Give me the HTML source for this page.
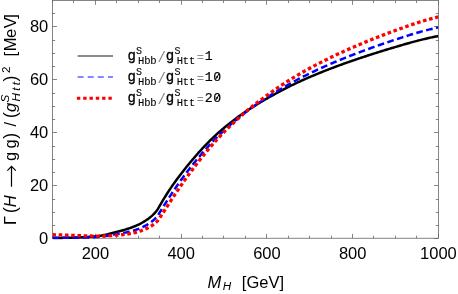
<!DOCTYPE html>
<html><head><meta charset="utf-8"><style>
html,body{margin:0;padding:0;background:#fff;overflow:hidden}
svg{display:block;will-change:transform}
</style></head><body>
<svg width="458" height="294" viewBox="0 0 458 294">
<rect width="458" height="294" fill="#fff"/>
<rect x="52.55" y="0.4" width="385.84999999999997" height="237.85" fill="none" stroke="#666" stroke-width="0.8"/>
<path d="M52.50,238.25 v-2.6 M52.50,0.4 v2.6 M73.50,238.25 v-2.6 M73.50,0.4 v2.6 M95.50,238.25 v-4.4 M95.50,0.4 v4.4 M116.50,238.25 v-2.6 M116.50,0.4 v2.6 M138.50,238.25 v-2.6 M138.50,0.4 v2.6 M159.50,238.25 v-2.6 M159.50,0.4 v2.6 M181.50,238.25 v-4.4 M181.50,0.4 v4.4 M202.50,238.25 v-2.6 M202.50,0.4 v2.6 M223.50,238.25 v-2.6 M223.50,0.4 v2.6 M245.50,238.25 v-2.6 M245.50,0.4 v2.6 M266.50,238.25 v-4.4 M266.50,0.4 v4.4 M288.50,238.25 v-2.6 M288.50,0.4 v2.6 M309.50,238.25 v-2.6 M309.50,0.4 v2.6 M331.50,238.25 v-2.6 M331.50,0.4 v2.6 M352.50,238.25 v-4.4 M352.50,0.4 v4.4 M373.50,238.25 v-2.6 M373.50,0.4 v2.6 M395.50,238.25 v-2.6 M395.50,0.4 v2.6 M416.50,238.25 v-2.6 M416.50,0.4 v2.6 M438.50,238.25 v-4.4 M438.50,0.4 v4.4 M52.55,238.50 h4.4 M438.4,238.50 h-4.4 M52.55,225.50 h2.6 M438.4,225.50 h-2.6 M52.55,212.50 h2.6 M438.4,212.50 h-2.6 M52.55,199.50 h2.6 M438.4,199.50 h-2.6 M52.55,185.50 h4.4 M438.4,185.50 h-4.4 M52.55,172.50 h2.6 M438.4,172.50 h-2.6 M52.55,159.50 h2.6 M438.4,159.50 h-2.6 M52.55,146.50 h2.6 M438.4,146.50 h-2.6 M52.55,132.50 h4.4 M438.4,132.50 h-4.4 M52.55,119.50 h2.6 M438.4,119.50 h-2.6 M52.55,106.50 h2.6 M438.4,106.50 h-2.6 M52.55,93.50 h2.6 M438.4,93.50 h-2.6 M52.55,79.50 h4.4 M438.4,79.50 h-4.4 M52.55,66.50 h2.6 M438.4,66.50 h-2.6 M52.55,53.50 h2.6 M438.4,53.50 h-2.6 M52.55,40.50 h2.6 M438.4,40.50 h-2.6 M52.55,26.50 h4.4 M438.4,26.50 h-4.4 M52.55,13.50 h2.6 M438.4,13.50 h-2.6" fill="none" stroke="#666" stroke-width="0.8"/>
<clipPath id="c"><rect x="52.55" y="0.4" width="385.84999999999997" height="239.35"/></clipPath>
<g clip-path="url(#c)" fill="none">
<path d="M52.58,238.06 L53.55,238.05 L54.52,238.03 L55.48,238.02 L56.45,238.00 L57.42,237.99 L58.38,237.97 L59.35,237.95 L60.32,237.93 L61.28,237.91 L62.25,237.89 L63.22,237.87 L64.18,237.85 L65.15,237.82 L66.12,237.80 L67.09,237.77 L68.05,237.75 L69.02,237.72 L69.99,237.69 L70.95,237.66 L71.92,237.63 L72.89,237.59 L73.85,237.56 L74.82,237.52 L75.79,237.49 L76.76,237.45 L77.72,237.41 L78.69,237.37 L79.66,237.33 L80.62,237.29 L81.59,237.24 L82.56,237.19 L83.52,237.15 L84.49,237.10 L85.46,237.05 L86.42,236.99 L87.39,236.94 L88.36,236.88 L89.33,236.82 L90.29,236.76 L91.26,236.70 L92.23,236.64 L93.19,236.57 L94.16,236.50 L95.13,236.43 L96.09,236.35 L97.06,236.25 L98.03,236.13 L99.00,236.00 L99.96,235.84 L100.93,235.66 L101.90,235.47 L102.86,235.27 L103.83,235.07 L104.80,234.86 L105.76,234.65 L106.73,234.44 L107.70,234.23 L108.67,233.99 L109.63,233.75 L110.60,233.49 L111.57,233.23 L112.53,232.96 L113.50,232.70 L114.47,232.43 L115.43,232.18 L116.40,231.94 L117.37,231.71 L118.33,231.48 L119.30,231.24 L120.27,231.00 L121.24,230.75 L122.20,230.49 L123.17,230.22 L124.14,229.95 L125.10,229.66 L126.07,229.37 L127.04,229.06 L128.00,228.75 L128.97,228.43 L129.94,228.09 L130.91,227.75 L131.87,227.39 L132.84,227.02 L133.81,226.64 L134.77,226.25 L135.74,225.84 L136.71,225.41 L137.67,224.97 L138.64,224.51 L139.61,224.04 L140.58,223.54 L141.54,223.02 L142.51,222.49 L143.48,221.92 L144.44,221.34 L145.41,220.73 L146.38,220.09 L147.34,219.42 L148.31,218.72 L149.28,217.99 L150.24,217.23 L151.21,216.42 L152.18,215.57 L153.15,214.66 L154.11,213.70 L155.08,212.66 L156.05,211.53 L157.01,210.28 L157.98,208.84 L158.95,207.12 L159.91,205.43 L160.88,203.76 L161.85,202.11 L162.82,200.49 L163.78,198.89 L164.75,197.32 L165.72,195.77 L166.68,194.24 L167.65,192.74 L168.62,191.26 L169.58,189.79 L170.55,188.35 L171.52,186.92 L172.48,185.50 L173.45,184.11 L174.42,182.75 L175.39,181.41 L176.35,180.09 L177.32,178.78 L178.29,177.49 L179.25,176.21 L180.22,174.93 L181.19,173.66 L182.15,172.40 L183.12,171.16 L184.09,169.92 L185.06,168.70 L186.02,167.49 L186.99,166.29 L187.96,165.11 L188.92,163.93 L189.89,162.76 L190.86,161.61 L191.82,160.46 L192.79,159.32 L193.76,158.20 L194.72,157.08 L195.69,155.97 L196.66,154.87 L197.63,153.78 L198.59,152.69 L199.56,151.62 L200.53,150.55 L201.49,149.49 L202.46,148.44 L203.43,147.40 L204.39,146.38 L205.36,145.36 L206.33,144.35 L207.30,143.36 L208.26,142.37 L209.23,141.40 L210.20,140.44 L211.16,139.49 L212.13,138.56 L213.10,137.63 L214.06,136.72 L215.03,135.82 L216.00,134.92 L216.97,134.04 L217.93,133.17 L218.90,132.31 L219.87,131.45 L220.83,130.61 L221.80,129.78 L222.77,128.95 L223.73,128.14 L224.70,127.33 L225.67,126.53 L226.63,125.74 L227.60,124.96 L228.57,124.19 L229.54,123.42 L230.50,122.66 L231.47,121.91 L232.44,121.16 L233.40,120.43 L234.37,119.70 L235.34,118.97 L236.30,118.25 L237.27,117.54 L238.24,116.83 L239.21,116.13 L240.17,115.43 L241.14,114.75 L242.11,114.06 L243.07,113.39 L244.04,112.72 L245.01,112.06 L245.97,111.40 L246.94,110.76 L247.91,110.11 L248.88,109.48 L249.84,108.85 L250.81,108.22 L251.78,107.61 L252.74,106.99 L253.71,106.39 L254.68,105.78 L255.64,105.19 L256.61,104.59 L257.58,104.00 L258.54,103.42 L259.51,102.84 L260.48,102.27 L261.45,101.69 L262.41,101.13 L263.38,100.56 L264.35,100.00 L265.31,99.44 L266.28,98.89 L267.25,98.34 L268.21,97.79 L269.18,97.24 L270.15,96.69 L271.12,96.15 L272.08,95.61 L273.05,95.08 L274.02,94.54 L274.98,94.01 L275.95,93.49 L276.92,92.96 L277.88,92.44 L278.85,91.92 L279.82,91.41 L280.78,90.90 L281.75,90.39 L282.72,89.88 L283.69,89.38 L284.65,88.88 L285.62,88.39 L286.59,87.89 L287.55,87.40 L288.52,86.92 L289.49,86.43 L290.45,85.95 L291.42,85.48 L292.39,85.00 L293.36,84.53 L294.32,84.06 L295.29,83.60 L296.26,83.14 L297.22,82.68 L298.19,82.23 L299.16,81.78 L300.12,81.33 L301.09,80.89 L302.06,80.45 L303.02,80.01 L303.99,79.58 L304.96,79.15 L305.93,78.72 L306.89,78.29 L307.86,77.87 L308.83,77.45 L309.79,77.04 L310.76,76.62 L311.73,76.21 L312.69,75.80 L313.66,75.40 L314.63,74.99 L315.60,74.59 L316.56,74.19 L317.53,73.79 L318.50,73.40 L319.46,73.01 L320.43,72.62 L321.40,72.23 L322.36,71.84 L323.33,71.46 L324.30,71.07 L325.27,70.69 L326.23,70.31 L327.20,69.94 L328.17,69.56 L329.13,69.19 L330.10,68.81 L331.07,68.44 L332.03,68.07 L333.00,67.71 L333.97,67.34 L334.93,66.98 L335.90,66.62 L336.87,66.26 L337.84,65.90 L338.80,65.55 L339.77,65.19 L340.74,64.84 L341.70,64.49 L342.67,64.15 L343.64,63.80 L344.60,63.45 L345.57,63.11 L346.54,62.77 L347.51,62.43 L348.47,62.09 L349.44,61.75 L350.41,61.41 L351.37,61.08 L352.34,60.75 L353.31,60.41 L354.27,60.08 L355.24,59.75 L356.21,59.42 L357.18,59.09 L358.14,58.77 L359.11,58.44 L360.08,58.11 L361.04,57.79 L362.01,57.47 L362.98,57.14 L363.94,56.82 L364.91,56.50 L365.88,56.19 L366.84,55.87 L367.81,55.55 L368.78,55.24 L369.75,54.92 L370.71,54.61 L371.68,54.30 L372.65,53.99 L373.61,53.68 L374.58,53.37 L375.55,53.07 L376.51,52.76 L377.48,52.46 L378.45,52.16 L379.42,51.85 L380.38,51.55 L381.35,51.25 L382.32,50.95 L383.28,50.66 L384.25,50.36 L385.22,50.06 L386.18,49.77 L387.15,49.48 L388.12,49.18 L389.08,48.89 L390.05,48.60 L391.02,48.31 L391.99,48.02 L392.95,47.74 L393.92,47.45 L394.89,47.16 L395.85,46.87 L396.82,46.58 L397.79,46.30 L398.75,46.01 L399.72,45.72 L400.69,45.44 L401.66,45.16 L402.62,44.88 L403.59,44.59 L404.56,44.31 L405.52,44.04 L406.49,43.76 L407.46,43.48 L408.42,43.21 L409.39,42.94 L410.36,42.67 L411.32,42.40 L412.29,42.13 L413.26,41.87 L414.23,41.61 L415.19,41.35 L416.16,41.09 L417.13,40.84 L418.09,40.58 L419.06,40.34 L420.03,40.09 L420.99,39.85 L421.96,39.61 L422.93,39.37 L423.90,39.14 L424.86,38.91 L425.83,38.68 L426.80,38.46 L427.76,38.24 L428.73,38.02 L429.70,37.81 L430.66,37.60 L431.63,37.40 L432.60,37.19 L433.57,36.99 L434.53,36.79 L435.50,36.59 L436.47,36.40 L437.43,36.21 L438.40,36.01" stroke="#000" stroke-width="2.5"/>
<path d="M52.58,237.87 L53.55,237.87 L54.52,237.87 L55.48,237.87 L56.45,237.87 L57.42,237.87 L58.38,237.87 L59.35,237.86 L60.32,237.86 L61.28,237.86 L62.25,237.85 L63.22,237.85 L64.18,237.84 L65.15,237.84 L66.12,237.83 L67.09,237.82 L68.05,237.81 L69.02,237.80 L69.99,237.79 L70.95,237.78 L71.92,237.77 L72.89,237.75 L73.85,237.74 L74.82,237.73 L75.79,237.71 L76.76,237.69 L77.72,237.67 L78.69,237.65 L79.66,237.63 L80.62,237.61 L81.59,237.59 L82.56,237.56 L83.52,237.54 L84.49,237.51 L85.46,237.48 L86.42,237.45 L87.39,237.42 L88.36,237.39 L89.33,237.35 L90.29,237.32 L91.26,237.28 L92.23,237.24 L93.19,237.20 L94.16,237.16 L95.13,237.11 L96.09,237.06 L97.06,237.00 L98.03,236.92 L99.00,236.83 L99.96,236.73 L100.93,236.61 L101.90,236.49 L102.86,236.36 L103.83,236.22 L104.80,236.08 L105.76,235.94 L106.73,235.79 L107.70,235.64 L108.67,235.48 L109.63,235.31 L110.60,235.13 L111.57,234.95 L112.53,234.77 L113.50,234.59 L114.47,234.42 L115.43,234.25 L116.40,234.10 L117.37,233.95 L118.33,233.80 L119.30,233.65 L120.27,233.50 L121.24,233.34 L122.20,233.17 L123.17,233.00 L124.14,232.82 L125.10,232.63 L126.07,232.44 L127.04,232.23 L128.00,232.02 L128.97,231.80 L129.94,231.56 L130.91,231.31 L131.87,231.05 L132.84,230.78 L133.81,230.50 L134.77,230.19 L135.74,229.88 L136.71,229.54 L137.67,229.19 L138.64,228.81 L139.61,228.42 L140.58,228.02 L141.54,227.59 L142.51,227.14 L143.48,226.67 L144.44,226.18 L145.41,225.67 L146.38,225.13 L147.34,224.56 L148.31,223.97 L149.28,223.34 L150.24,222.68 L151.21,221.99 L152.18,221.24 L153.15,220.46 L154.11,219.61 L155.08,218.70 L156.05,217.70 L157.01,216.60 L157.98,215.32 L158.95,213.76 L159.91,212.19 L160.88,210.62 L161.85,209.06 L162.82,207.50 L163.78,205.94 L164.75,204.40 L165.72,202.86 L166.68,201.34 L167.65,199.82 L168.62,198.32 L169.58,196.82 L170.55,195.33 L171.52,193.86 L172.48,192.39 L173.45,190.93 L174.42,189.50 L175.39,188.09 L176.35,186.69 L177.32,185.31 L178.29,183.93 L179.25,182.56 L180.22,181.20 L181.19,179.84 L182.15,178.50 L183.12,177.17 L184.09,175.85 L185.06,174.54 L186.02,173.25 L186.99,171.97 L187.96,170.71 L188.92,169.46 L189.89,168.22 L190.86,167.00 L191.82,165.78 L192.79,164.57 L193.76,163.38 L194.72,162.18 L195.69,161.00 L196.66,159.82 L197.63,158.65 L198.59,157.49 L199.56,156.34 L200.53,155.19 L201.49,154.05 L202.46,152.93 L203.43,151.81 L204.39,150.70 L205.36,149.60 L206.33,148.51 L207.30,147.43 L208.26,146.36 L209.23,145.30 L210.20,144.26 L211.16,143.23 L212.13,142.21 L213.10,141.20 L214.06,140.20 L215.03,139.21 L216.00,138.23 L216.97,137.26 L217.93,136.30 L218.90,135.35 L219.87,134.41 L220.83,133.48 L221.80,132.56 L222.77,131.65 L223.73,130.75 L224.70,129.85 L225.67,128.97 L226.63,128.09 L227.60,127.23 L228.57,126.37 L229.54,125.52 L230.50,124.67 L231.47,123.84 L232.44,123.01 L233.40,122.18 L234.37,121.37 L235.34,120.56 L236.30,119.76 L237.27,118.96 L238.24,118.18 L239.21,117.39 L240.17,116.61 L241.14,115.84 L242.11,115.08 L243.07,114.32 L244.04,113.57 L245.01,112.83 L245.97,112.10 L246.94,111.37 L247.91,110.65 L248.88,109.94 L249.84,109.23 L250.81,108.53 L251.78,107.83 L252.74,107.14 L253.71,106.46 L254.68,105.78 L255.64,105.11 L256.61,104.44 L257.58,103.78 L258.54,103.12 L259.51,102.46 L260.48,101.82 L261.45,101.17 L262.41,100.53 L263.38,99.89 L264.35,99.26 L265.31,98.63 L266.28,98.01 L267.25,97.38 L268.21,96.76 L269.18,96.15 L270.15,95.53 L271.12,94.92 L272.08,94.31 L273.05,93.71 L274.02,93.11 L274.98,92.51 L275.95,91.92 L276.92,91.33 L277.88,90.74 L278.85,90.16 L279.82,89.57 L280.78,89.00 L281.75,88.43 L282.72,87.86 L283.69,87.29 L284.65,86.73 L285.62,86.17 L286.59,85.61 L287.55,85.06 L288.52,84.51 L289.49,83.97 L290.45,83.42 L291.42,82.89 L292.39,82.35 L293.36,81.82 L294.32,81.30 L295.29,80.77 L296.26,80.25 L297.22,79.74 L298.19,79.23 L299.16,78.72 L300.12,78.21 L301.09,77.71 L302.06,77.22 L303.02,76.72 L303.99,76.23 L304.96,75.75 L305.93,75.26 L306.89,74.78 L307.86,74.31 L308.83,73.83 L309.79,73.36 L310.76,72.89 L311.73,72.43 L312.69,71.97 L313.66,71.51 L314.63,71.05 L315.60,70.60 L316.56,70.15 L317.53,69.70 L318.50,69.25 L319.46,68.81 L320.43,68.37 L321.40,67.93 L322.36,67.50 L323.33,67.06 L324.30,66.63 L325.27,66.20 L326.23,65.77 L327.20,65.35 L328.17,64.92 L329.13,64.50 L330.10,64.08 L331.07,63.66 L332.03,63.25 L333.00,62.83 L333.97,62.42 L334.93,62.01 L335.90,61.61 L336.87,61.20 L337.84,60.80 L338.80,60.40 L339.77,60.00 L340.74,59.61 L341.70,59.22 L342.67,58.82 L343.64,58.43 L344.60,58.05 L345.57,57.66 L346.54,57.27 L347.51,56.89 L348.47,56.51 L349.44,56.13 L350.41,55.75 L351.37,55.38 L352.34,55.00 L353.31,54.63 L354.27,54.25 L355.24,53.88 L356.21,53.51 L357.18,53.14 L358.14,52.78 L359.11,52.41 L360.08,52.05 L361.04,51.68 L362.01,51.32 L362.98,50.96 L363.94,50.60 L364.91,50.24 L365.88,49.88 L366.84,49.53 L367.81,49.18 L368.78,48.82 L369.75,48.47 L370.71,48.12 L371.68,47.78 L372.65,47.43 L373.61,47.08 L374.58,46.74 L375.55,46.40 L376.51,46.05 L377.48,45.71 L378.45,45.38 L379.42,45.04 L380.38,44.70 L381.35,44.37 L382.32,44.03 L383.28,43.70 L384.25,43.37 L385.22,43.04 L386.18,42.71 L387.15,42.39 L388.12,42.06 L389.08,41.73 L390.05,41.41 L391.02,41.09 L391.99,40.77 L392.95,40.44 L393.92,40.12 L394.89,39.80 L395.85,39.48 L396.82,39.16 L397.79,38.84 L398.75,38.52 L399.72,38.21 L400.69,37.89 L401.66,37.58 L402.62,37.26 L403.59,36.95 L404.56,36.64 L405.52,36.33 L406.49,36.02 L407.46,35.72 L408.42,35.41 L409.39,35.11 L410.36,34.81 L411.32,34.51 L412.29,34.22 L413.26,33.92 L414.23,33.63 L415.19,33.34 L416.16,33.06 L417.13,32.78 L418.09,32.50 L419.06,32.22 L420.03,31.94 L420.99,31.67 L421.96,31.40 L422.93,31.14 L423.90,30.88 L424.86,30.62 L425.83,30.37 L426.80,30.12 L427.76,29.88 L428.73,29.64 L429.70,29.40 L430.66,29.17 L431.63,28.94 L432.60,28.71 L433.57,28.48 L434.53,28.26 L435.50,28.04 L436.47,27.82 L437.43,27.60 L438.40,27.38" stroke="#0000ff" stroke-width="2.5" stroke-dasharray="6.7 3.448" stroke-dashoffset="0.2"/>
<path d="M52.58,234.74 L53.55,234.76 L54.52,234.79 L55.48,234.81 L56.45,234.84 L57.42,234.87 L58.38,234.89 L59.35,234.92 L60.32,234.95 L61.28,234.99 L62.25,235.02 L63.22,235.05 L64.18,235.08 L65.15,235.12 L66.12,235.15 L67.09,235.18 L68.05,235.22 L69.02,235.25 L69.99,235.29 L70.95,235.32 L71.92,235.36 L72.89,235.40 L73.85,235.43 L74.82,235.47 L75.79,235.50 L76.76,235.54 L77.72,235.57 L78.69,235.61 L79.66,235.64 L80.62,235.67 L81.59,235.71 L82.56,235.74 L83.52,235.77 L84.49,235.80 L85.46,235.83 L86.42,235.86 L87.39,235.89 L88.36,235.92 L89.33,235.94 L90.29,235.97 L91.26,236.00 L92.23,236.03 L93.19,236.06 L94.16,236.10 L95.13,236.13 L96.09,236.16 L97.06,236.18 L98.03,236.18 L99.00,236.17 L99.96,236.16 L100.93,236.13 L101.90,236.10 L102.86,236.06 L103.83,236.01 L104.80,235.97 L105.76,235.93 L106.73,235.88 L107.70,235.83 L108.67,235.77 L109.63,235.70 L110.60,235.62 L111.57,235.54 L112.53,235.46 L113.50,235.37 L114.47,235.29 L115.43,235.21 L116.40,235.14 L117.37,235.07 L118.33,235.00 L119.30,234.93 L120.27,234.85 L121.24,234.76 L122.20,234.66 L123.17,234.56 L124.14,234.45 L125.10,234.33 L126.07,234.21 L127.04,234.07 L128.00,233.93 L128.97,233.77 L129.94,233.61 L130.91,233.43 L131.87,233.24 L132.84,233.04 L133.81,232.83 L134.77,232.60 L135.74,232.36 L136.71,232.11 L137.67,231.84 L138.64,231.55 L139.61,231.24 L140.58,230.92 L141.54,230.59 L142.51,230.23 L143.48,229.86 L144.44,229.47 L145.41,229.05 L146.38,228.61 L147.34,228.15 L148.31,227.66 L149.28,227.14 L150.24,226.60 L151.21,226.02 L152.18,225.40 L153.15,224.73 L154.11,224.02 L155.08,223.24 L156.05,222.39 L157.01,221.45 L157.98,220.34 L158.95,218.96 L159.91,217.54 L160.88,216.09 L161.85,214.63 L162.82,213.15 L163.78,211.66 L164.75,210.17 L165.72,208.67 L166.68,207.18 L167.65,205.68 L168.62,204.18 L169.58,202.68 L170.55,201.19 L171.52,199.70 L172.48,198.21 L173.45,196.72 L174.42,195.26 L175.39,193.80 L176.35,192.36 L177.32,190.92 L178.29,189.49 L179.25,188.07 L180.22,186.64 L181.19,185.23 L182.15,183.82 L183.12,182.42 L184.09,181.04 L185.06,179.66 L186.02,178.30 L186.99,176.95 L187.96,175.62 L188.92,174.29 L189.89,172.98 L190.86,171.68 L191.82,170.39 L192.79,169.11 L193.76,167.83 L194.72,166.56 L195.69,165.29 L196.66,164.04 L197.63,162.78 L198.59,161.54 L199.56,160.30 L200.53,159.07 L201.49,157.84 L202.46,156.63 L203.43,155.42 L204.39,154.22 L205.36,153.03 L206.33,151.85 L207.30,150.68 L208.26,149.52 L209.23,148.37 L210.20,147.24 L211.16,146.11 L212.13,145.00 L213.10,143.90 L214.06,142.80 L215.03,141.72 L216.00,140.65 L216.97,139.58 L217.93,138.53 L218.90,137.49 L219.87,136.45 L220.83,135.43 L221.80,134.42 L222.77,133.41 L223.73,132.42 L224.70,131.43 L225.67,130.45 L226.63,129.48 L227.60,128.52 L228.57,127.57 L229.54,126.63 L230.50,125.69 L231.47,124.76 L232.44,123.84 L233.40,122.93 L234.37,122.02 L235.34,121.12 L236.30,120.23 L237.27,119.35 L238.24,118.47 L239.21,117.60 L240.17,116.73 L241.14,115.87 L242.11,115.02 L243.07,114.17 L244.04,113.34 L245.01,112.51 L245.97,111.69 L246.94,110.88 L247.91,110.07 L248.88,109.27 L249.84,108.48 L250.81,107.69 L251.78,106.91 L252.74,106.14 L253.71,105.37 L254.68,104.61 L255.64,103.86 L256.61,103.11 L257.58,102.36 L258.54,101.63 L259.51,100.89 L260.48,100.16 L261.45,99.44 L262.41,98.72 L263.38,98.01 L264.35,97.30 L265.31,96.59 L266.28,95.89 L267.25,95.19 L268.21,94.49 L269.18,93.80 L270.15,93.11 L271.12,92.42 L272.08,91.74 L273.05,91.06 L274.02,90.39 L274.98,89.72 L275.95,89.05 L276.92,88.39 L277.88,87.73 L278.85,87.07 L279.82,86.42 L280.78,85.78 L281.75,85.13 L282.72,84.49 L283.69,83.86 L284.65,83.23 L285.62,82.60 L286.59,81.97 L287.55,81.35 L288.52,80.74 L289.49,80.13 L290.45,79.52 L291.42,78.92 L292.39,78.32 L293.36,77.72 L294.32,77.13 L295.29,76.54 L296.26,75.96 L297.22,75.38 L298.19,74.80 L299.16,74.23 L300.12,73.67 L301.09,73.10 L302.06,72.55 L303.02,71.99 L303.99,71.44 L304.96,70.89 L305.93,70.35 L306.89,69.81 L307.86,69.27 L308.83,68.74 L309.79,68.21 L310.76,67.69 L311.73,67.17 L312.69,66.65 L313.66,66.13 L314.63,65.62 L315.60,65.11 L316.56,64.60 L317.53,64.10 L318.50,63.60 L319.46,63.10 L320.43,62.60 L321.40,62.11 L322.36,61.62 L323.33,61.13 L324.30,60.65 L325.27,60.16 L326.23,59.68 L327.20,59.21 L328.17,58.73 L329.13,58.26 L330.10,57.78 L331.07,57.32 L332.03,56.85 L333.00,56.39 L333.97,55.93 L334.93,55.47 L335.90,55.01 L336.87,54.56 L337.84,54.11 L338.80,53.66 L339.77,53.21 L340.74,52.77 L341.70,52.33 L342.67,51.89 L343.64,51.45 L344.60,51.02 L345.57,50.58 L346.54,50.15 L347.51,49.72 L348.47,49.30 L349.44,48.87 L350.41,48.45 L351.37,48.03 L352.34,47.61 L353.31,47.19 L354.27,46.77 L355.24,46.36 L356.21,45.94 L357.18,45.53 L358.14,45.12 L359.11,44.71 L360.08,44.30 L361.04,43.90 L362.01,43.49 L362.98,43.09 L363.94,42.69 L364.91,42.29 L365.88,41.89 L366.84,41.49 L367.81,41.10 L368.78,40.70 L369.75,40.31 L370.71,39.92 L371.68,39.54 L372.65,39.15 L373.61,38.76 L374.58,38.38 L375.55,38.00 L376.51,37.62 L377.48,37.24 L378.45,36.86 L379.42,36.49 L380.38,36.11 L381.35,35.74 L382.32,35.37 L383.28,35.00 L384.25,34.63 L385.22,34.26 L386.18,33.90 L387.15,33.53 L388.12,33.17 L389.08,32.81 L390.05,32.45 L391.02,32.09 L391.99,31.73 L392.95,31.37 L393.92,31.02 L394.89,30.66 L395.85,30.31 L396.82,29.95 L397.79,29.60 L398.75,29.24 L399.72,28.89 L400.69,28.54 L401.66,28.19 L402.62,27.85 L403.59,27.50 L404.56,27.15 L405.52,26.81 L406.49,26.47 L407.46,26.13 L408.42,25.80 L409.39,25.46 L410.36,25.13 L411.32,24.80 L412.29,24.47 L413.26,24.15 L414.23,23.82 L415.19,23.50 L416.16,23.19 L417.13,22.87 L418.09,22.56 L419.06,22.25 L420.03,21.95 L420.99,21.65 L421.96,21.35 L422.93,21.06 L423.90,20.77 L424.86,20.48 L425.83,20.20 L426.80,19.93 L427.76,19.66 L428.73,19.39 L429.70,19.12 L430.66,18.86 L431.63,18.60 L432.60,18.35 L433.57,18.09 L434.53,17.84 L435.50,17.60 L436.47,17.35 L437.43,17.11 L438.40,16.87" stroke="#ff0000" stroke-width="3.3" stroke-dasharray="3.6 2.648" stroke-dashoffset="0.15"/>
</g>
<text x="95.45" y="258.8" text-anchor="middle" font-size="16.5" font-family="Liberation Sans, sans-serif" fill="#000">200</text>
<text x="181.19" y="258.8" text-anchor="middle" font-size="16.5" font-family="Liberation Sans, sans-serif" fill="#000">400</text>
<text x="266.93" y="258.8" text-anchor="middle" font-size="16.5" font-family="Liberation Sans, sans-serif" fill="#000">600</text>
<text x="352.66" y="258.8" text-anchor="middle" font-size="16.5" font-family="Liberation Sans, sans-serif" fill="#000">800</text>
<text x="438.40" y="258.8" text-anchor="middle" font-size="16.5" font-family="Liberation Sans, sans-serif" fill="#000">1000</text>
<text x="48.3" y="244.15" text-anchor="end" font-size="16.5" font-family="Liberation Sans, sans-serif" fill="#000">0</text>
<text x="48.3" y="191.21" text-anchor="end" font-size="16.5" font-family="Liberation Sans, sans-serif" fill="#000">20</text>
<text x="48.3" y="138.28" text-anchor="end" font-size="16.5" font-family="Liberation Sans, sans-serif" fill="#000">40</text>
<text x="48.3" y="85.34" text-anchor="end" font-size="16.5" font-family="Liberation Sans, sans-serif" fill="#000">60</text>
<text x="48.3" y="32.40" text-anchor="end" font-size="16.5" font-family="Liberation Sans, sans-serif" fill="#000">80</text>
<text x="207.50" y="288.10" font-size="16.5" font-style="italic" font-family="Liberation Sans, sans-serif" fill="#000">M</text>
<text x="222.80" y="290.30" font-size="11.7" font-style="italic" font-family="Liberation Sans, sans-serif" fill="#000">H</text>
<text x="241.80" y="288.10" font-size="16.5" font-family="Liberation Sans, sans-serif" fill="#000">[GeV]</text>
<text transform="translate(15.7,225.1) rotate(-90)" font-size="16.50" font-family="Liberation Sans, sans-serif" fill="#000">Γ</text>
<text transform="translate(15.7,213.0) rotate(-90)" font-size="17.49" font-family="Liberation Sans, sans-serif" fill="#000">(</text>
<text transform="translate(15.7,207.2) rotate(-90)" font-size="16.50" font-style="italic" font-family="Liberation Sans, sans-serif" fill="#000">H</text>
<text transform="translate(15.7,161.0) rotate(-90)" font-size="16.50" font-family="Liberation Sans, sans-serif" fill="#000">g</text>
<text transform="translate(15.7,148.5) rotate(-90)" font-size="16.50" font-family="Liberation Sans, sans-serif" fill="#000">g</text>
<text transform="translate(15.7,138.7) rotate(-90)" font-size="17.49" font-family="Liberation Sans, sans-serif" fill="#000">)</text>
<text transform="translate(15.7,126.6) rotate(-90)" font-size="16.50" font-family="Liberation Sans, sans-serif" fill="#000">/</text>
<text transform="translate(15.7,118.1) rotate(-90)" font-size="17.49" font-family="Liberation Sans, sans-serif" fill="#000">(</text>
<text transform="translate(15.7,112.0) rotate(-90)" font-size="16.50" font-style="italic" font-family="Liberation Sans, sans-serif" fill="#000">g</text>
<text transform="translate(8.5,102.6) rotate(-90)" font-size="11.70" font-style="italic" font-family="Liberation Sans, sans-serif" fill="#000">S</text>
<text transform="translate(19.7,101.5) rotate(-90)" font-size="11.70" font-style="italic" font-family="Liberation Sans, sans-serif" fill="#000">H</text>
<text transform="translate(19.7,90.7) rotate(-90)" font-size="11.70" font-style="italic" font-family="Liberation Sans, sans-serif" fill="#000">t</text>
<text transform="translate(19.7,85.2) rotate(-90)" font-size="11.70" font-style="italic" font-family="Liberation Sans, sans-serif" fill="#000">t</text>
<text transform="translate(15.7,81.5) rotate(-90)" font-size="17.49" font-family="Liberation Sans, sans-serif" fill="#000">)</text>
<text transform="translate(9.8,73.1) rotate(-90)" font-size="11.70" font-family="Liberation Sans, sans-serif" fill="#000">2</text>
<text transform="translate(15.7,56.6) rotate(-90)" font-size="16.50" font-family="Liberation Sans, sans-serif" fill="#000">[</text>
<text transform="translate(15.7,51.3) rotate(-90)" font-size="16.50" font-family="Liberation Sans, sans-serif" fill="#000">M</text>
<text transform="translate(15.7,38.0) rotate(-90)" font-size="16.50" font-family="Liberation Sans, sans-serif" fill="#000">e</text>
<text transform="translate(15.7,28.2) rotate(-90)" font-size="16.50" font-family="Liberation Sans, sans-serif" fill="#000">V</text>
<text transform="translate(15.7,18.7) rotate(-90)" font-size="16.50" font-family="Liberation Sans, sans-serif" fill="#000">]</text>
<path d="M11.5,186.7 V166.6 M7.4,170.6 L11.5,166.3 L15.8,170.6" fill="none" stroke="#000" stroke-width="1.2"/>
<path d="M77.6,55.95 H113" stroke="#000" stroke-width="1.1" stroke-opacity="0.9"/>
<path d="M77.6,77.0 H113" stroke="#0000ff" stroke-width="1.1" stroke-opacity="0.95" stroke-dasharray="6 4.1"/>
<path d="M76.9,98.3 H112.6" stroke="#ff0000" stroke-width="3" stroke-dasharray="3.4 2.9"/>
<text x="131.70" y="59.70" text-anchor="middle" font-size="14" font-family="Liberation Mono, monospace" fill="#000" stroke="#000" stroke-width="0.32">g</text><text x="138.90" y="53.60" text-anchor="middle" font-size="10" font-family="Liberation Mono, monospace" fill="#000" stroke="#000" stroke-width="0.1">S</text><text x="141.10" y="63.65" text-anchor="middle" font-size="10.5" font-family="Liberation Mono, monospace" fill="#000" stroke="#000" stroke-width="0.1">H</text><text x="147.30" y="63.65" text-anchor="middle" font-size="10.5" font-family="Liberation Mono, monospace" fill="#000" stroke="#000" stroke-width="0.1">b</text><text x="153.40" y="63.65" text-anchor="middle" font-size="10.5" font-family="Liberation Mono, monospace" fill="#000" stroke="#000" stroke-width="0.1">b</text><text x="161.60" y="61.70" text-anchor="middle" font-size="14" font-family="Liberation Mono, monospace" fill="#858585">/</text><text x="170.00" y="59.70" text-anchor="middle" font-size="14" font-family="Liberation Mono, monospace" fill="#000" stroke="#000" stroke-width="0.32">g</text><text x="177.50" y="53.60" text-anchor="middle" font-size="10" font-family="Liberation Mono, monospace" fill="#000" stroke="#000" stroke-width="0.1">S</text><text x="180.00" y="63.65" text-anchor="middle" font-size="10.5" font-family="Liberation Mono, monospace" fill="#000" stroke="#000" stroke-width="0.1">H</text><text x="186.00" y="63.65" text-anchor="middle" font-size="10.5" font-family="Liberation Mono, monospace" fill="#000" stroke="#000" stroke-width="0.1">t</text><text x="192.20" y="63.65" text-anchor="middle" font-size="10.5" font-family="Liberation Mono, monospace" fill="#000" stroke="#000" stroke-width="0.1">t</text><text x="200.30" y="60.90" text-anchor="middle" font-size="12" font-family="Liberation Mono, monospace" fill="#8a8a8a">=</text><text x="208.80" y="60.00" text-anchor="middle" font-size="13.2" font-family="Liberation Mono, monospace" fill="#000" stroke="#000" stroke-width="0.2">1</text>
<text x="131.70" y="80.60" text-anchor="middle" font-size="14" font-family="Liberation Mono, monospace" fill="#000" stroke="#000" stroke-width="0.32">g</text><text x="138.90" y="74.50" text-anchor="middle" font-size="10" font-family="Liberation Mono, monospace" fill="#000" stroke="#000" stroke-width="0.1">S</text><text x="141.10" y="84.55" text-anchor="middle" font-size="10.5" font-family="Liberation Mono, monospace" fill="#000" stroke="#000" stroke-width="0.1">H</text><text x="147.30" y="84.55" text-anchor="middle" font-size="10.5" font-family="Liberation Mono, monospace" fill="#000" stroke="#000" stroke-width="0.1">b</text><text x="153.40" y="84.55" text-anchor="middle" font-size="10.5" font-family="Liberation Mono, monospace" fill="#000" stroke="#000" stroke-width="0.1">b</text><text x="161.60" y="82.60" text-anchor="middle" font-size="14" font-family="Liberation Mono, monospace" fill="#858585">/</text><text x="170.00" y="80.60" text-anchor="middle" font-size="14" font-family="Liberation Mono, monospace" fill="#000" stroke="#000" stroke-width="0.32">g</text><text x="177.50" y="74.50" text-anchor="middle" font-size="10" font-family="Liberation Mono, monospace" fill="#000" stroke="#000" stroke-width="0.1">S</text><text x="180.00" y="84.55" text-anchor="middle" font-size="10.5" font-family="Liberation Mono, monospace" fill="#000" stroke="#000" stroke-width="0.1">H</text><text x="186.00" y="84.55" text-anchor="middle" font-size="10.5" font-family="Liberation Mono, monospace" fill="#000" stroke="#000" stroke-width="0.1">t</text><text x="192.20" y="84.55" text-anchor="middle" font-size="10.5" font-family="Liberation Mono, monospace" fill="#000" stroke="#000" stroke-width="0.1">t</text><text x="200.30" y="81.80" text-anchor="middle" font-size="12" font-family="Liberation Mono, monospace" fill="#8a8a8a">=</text><text x="208.80" y="80.90" text-anchor="middle" font-size="13.2" font-family="Liberation Mono, monospace" fill="#000" stroke="#000" stroke-width="0.2">1</text><text x="217.30" y="80.90" text-anchor="middle" font-size="13.2" font-family="Liberation Mono, monospace" fill="#000" stroke="#000" stroke-width="0.2">0</text><path d="M215.70,79.20 L219.00,73.60" stroke="#000" stroke-width="1"/>
<text x="131.70" y="101.60" text-anchor="middle" font-size="14" font-family="Liberation Mono, monospace" fill="#000" stroke="#000" stroke-width="0.32">g</text><text x="138.90" y="95.50" text-anchor="middle" font-size="10" font-family="Liberation Mono, monospace" fill="#000" stroke="#000" stroke-width="0.1">S</text><text x="141.10" y="105.55" text-anchor="middle" font-size="10.5" font-family="Liberation Mono, monospace" fill="#000" stroke="#000" stroke-width="0.1">H</text><text x="147.30" y="105.55" text-anchor="middle" font-size="10.5" font-family="Liberation Mono, monospace" fill="#000" stroke="#000" stroke-width="0.1">b</text><text x="153.40" y="105.55" text-anchor="middle" font-size="10.5" font-family="Liberation Mono, monospace" fill="#000" stroke="#000" stroke-width="0.1">b</text><text x="161.60" y="103.60" text-anchor="middle" font-size="14" font-family="Liberation Mono, monospace" fill="#858585">/</text><text x="170.00" y="101.60" text-anchor="middle" font-size="14" font-family="Liberation Mono, monospace" fill="#000" stroke="#000" stroke-width="0.32">g</text><text x="177.50" y="95.50" text-anchor="middle" font-size="10" font-family="Liberation Mono, monospace" fill="#000" stroke="#000" stroke-width="0.1">S</text><text x="180.00" y="105.55" text-anchor="middle" font-size="10.5" font-family="Liberation Mono, monospace" fill="#000" stroke="#000" stroke-width="0.1">H</text><text x="186.00" y="105.55" text-anchor="middle" font-size="10.5" font-family="Liberation Mono, monospace" fill="#000" stroke="#000" stroke-width="0.1">t</text><text x="192.20" y="105.55" text-anchor="middle" font-size="10.5" font-family="Liberation Mono, monospace" fill="#000" stroke="#000" stroke-width="0.1">t</text><text x="200.30" y="102.80" text-anchor="middle" font-size="12" font-family="Liberation Mono, monospace" fill="#8a8a8a">=</text><text x="208.80" y="101.90" text-anchor="middle" font-size="13.2" font-family="Liberation Mono, monospace" fill="#000" stroke="#000" stroke-width="0.2">2</text><text x="217.30" y="101.90" text-anchor="middle" font-size="13.2" font-family="Liberation Mono, monospace" fill="#000" stroke="#000" stroke-width="0.2">0</text><path d="M215.70,100.20 L219.00,94.60" stroke="#000" stroke-width="1"/>
</svg>
</body></html>
